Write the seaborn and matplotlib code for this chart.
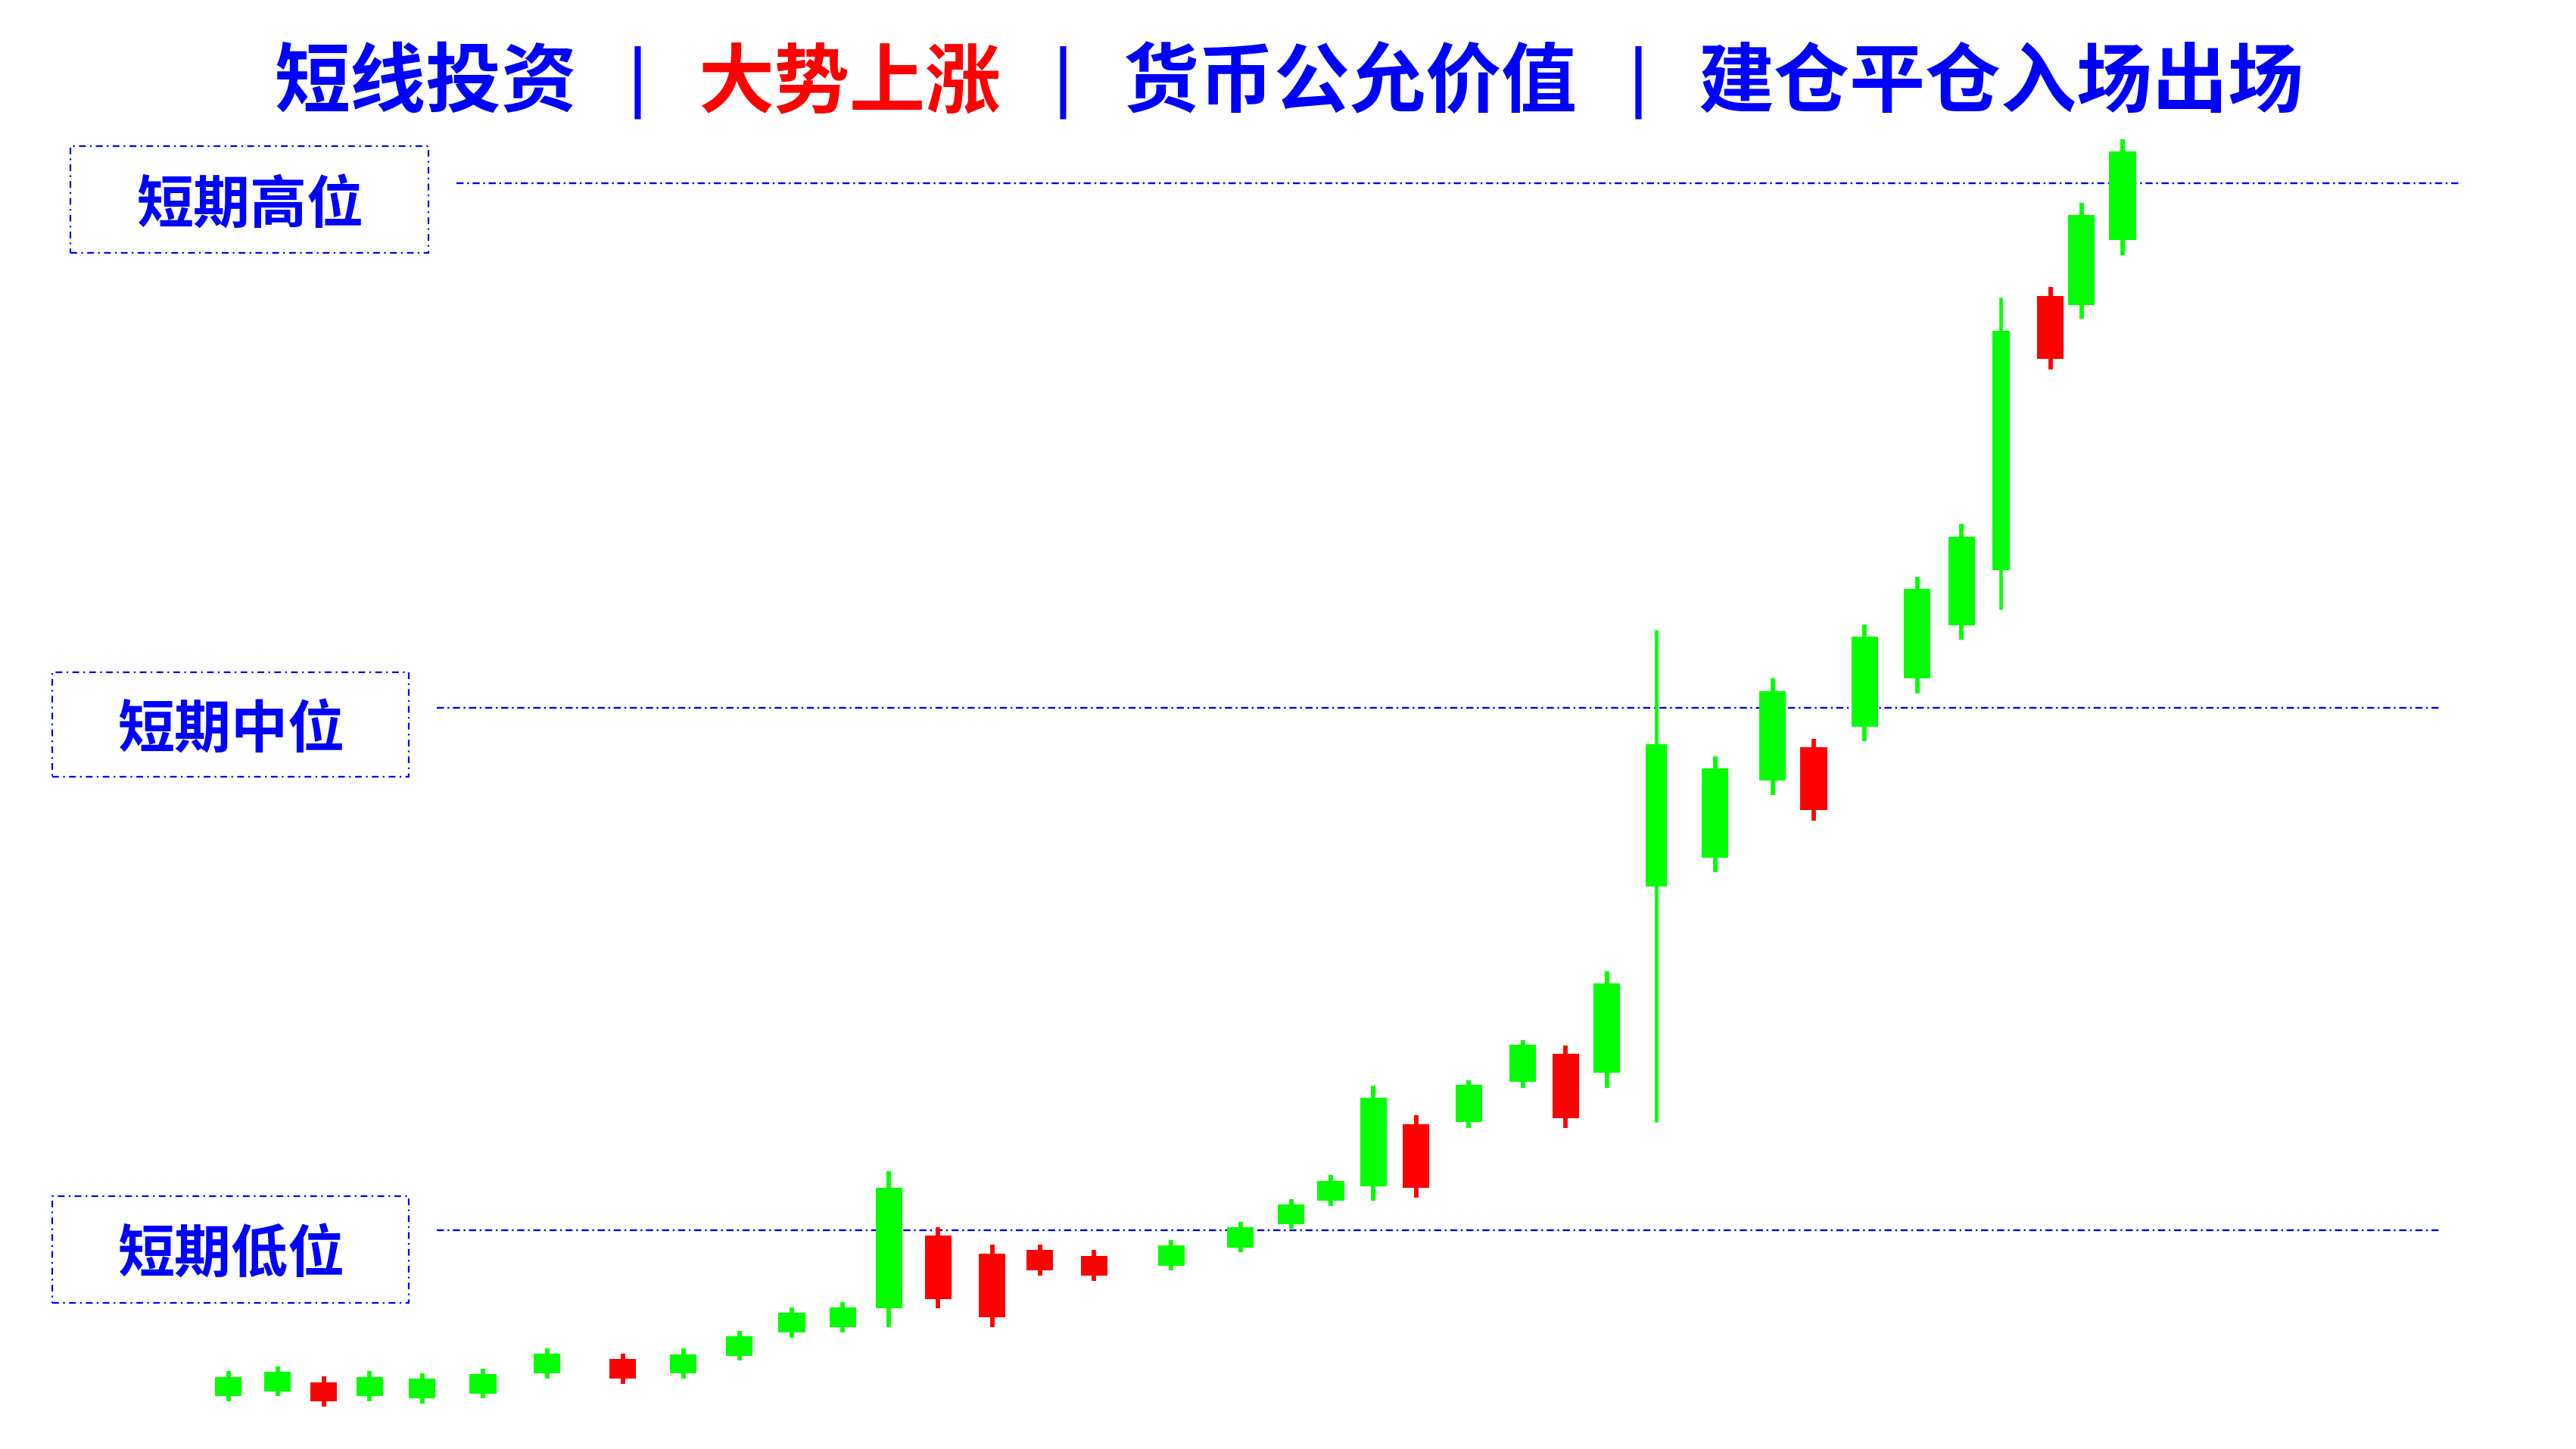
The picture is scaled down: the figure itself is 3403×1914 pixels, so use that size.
import numpy as np
import pandas as pd
import matplotlib.pyplot as plt
from matplotlib.patches import Rectangle
import seaborn as sns

# K线数据
day = [13.9, 16.9, 19.7, 22.5, 25.7, 29.4, 33.3, 37.9, 41.6, 45.0,
       48.2, 51.3, 54.1, 57.1, 60.4, 63.3, 66.6, 71.3, 75.5, 78.6,
       81.0, 83.6, 86.2, 89.4, 92.7, 95.3, 97.8, 100.8, 104.4, 107.9,
       110.4, 113.5, 116.7, 119.4, 121.8, 124.8, 126.7, 129.2]
open_ = [3.21, 3.49, 4.07, 3.21, 3.08, 3.35, 4.61, 5.50, 4.61, 5.66,
         7.10, 7.40, 8.55, 13.00, 11.89, 12.12, 11.75, 11.17, 12.28, 13.67,
         15.11, 15.97, 19.77, 19.92, 22.36, 24.05, 22.88, 34.25, 36.01, 40.71,
         42.71, 43.98, 46.89, 50.12, 53.52, 70.18, 69.64, 73.57]
close = [4.38, 4.72, 2.90, 4.38, 4.30, 4.58, 5.82, 4.27, 5.78, 6.88,
         8.31, 8.63, 15.90, 9.14, 8.04, 10.89, 10.57, 12.40, 13.51, 14.90,
         16.33, 21.40, 15.92, 22.16, 24.61, 20.15, 28.34, 42.90, 41.44, 46.14,
         38.87, 49.45, 52.35, 55.53, 68.06, 66.34, 75.11, 78.98]
high = [4.76, 5.04, 4.44, 4.76, 4.62, 4.90, 6.14, 5.82, 6.14, 7.20,
        8.63, 8.95, 16.90, 13.51, 12.45, 12.45, 12.12, 12.72, 13.83, 15.22,
        16.66, 22.12, 20.32, 22.44, 24.88, 24.56, 29.07, 49.85, 42.17, 46.92,
        43.22, 50.18, 53.07, 56.32, 70.10, 70.74, 75.86, 79.72]
low = [2.90, 3.21, 2.57, 2.90, 2.75, 3.08, 4.27, 3.95, 4.27, 5.38,
       6.76, 7.08, 7.40, 8.55, 7.40, 10.57, 10.25, 10.89, 11.96, 13.40,
       14.78, 15.11, 15.32, 19.55, 22.00, 19.55, 21.96, 19.90, 35.12, 39.82,
       38.24, 43.08, 46.00, 49.24, 51.11, 65.72, 68.78, 72.66]

level_names = ['短期高位', '短期中位', '短期低位']
level_values = [77.05, 45.10, 13.30]

title_parts = ['短线投资', '大势上涨', '货币公允价值', '建仓平仓入场出场']

df = pd.DataFrame({'day': day, 'open': open_, 'close': close, 'high': high, 'low': low})
df['up'] = df['close'] >= df['open']

# 样式
GREEN = '#00FF00'
RED = '#FF0000'
BLUE = '#0000FF'
thin = {27: 1.3, 34: 1.03}   # 细一点的K线 (索引: 实体宽度)

sns.set_theme(style='white')
plt.rcParams['font.family'] = ['Noto Sans CJK SC', 'DejaVu Sans']

W, H = 1568, 882   # 布局参照尺寸
fig = plt.figure(figsize=(34.03, 19.14), dpi=100)
ax = fig.add_axes([0, 0, 1, 1])
ax.set_xlim(0, W / 10)
ax.set_ylim(0, H / 10)
ax.axis('off')

colors = np.where(df['up'], GREEN, RED)
widths = [thin.get(i, 1.62) for i in range(len(df))]
wick_lw = [3.3 if i in thin else 4.2 for i in range(len(df))]

ax.vlines(df['day'], df['low'], df['high'], colors=colors, linewidth=wick_lw,
          zorder=2, capstyle='butt')
ax.bar(df['day'], (df['close'] - df['open']).abs(),
       bottom=df[['open', 'close']].min(axis=1),
       width=widths, color=colors, linewidth=0, zorder=3)

# 水平参考线 + 标签框
boxes = [(43, 89, 218, 65), (32, 409, 217, 64), (32, 728, 217, 65)]
for name, val, (bx, by, bw, bh) in zip(level_names, level_values, boxes):
    x0 = (bx + bw + 17) / 10
    ax.hlines(val, x0, x0 + 121.9, colors=BLUE, linewidth=1.7,
              linestyles=(0, (4, 2, 1, 2)), zorder=1)
    rect = Rectangle((bx / W, 1 - (by + bh) / H), bw / W, bh / H,
                     transform=fig.transFigure, fill=False, edgecolor=BLUE,
                     linewidth=1.6, linestyle=(0, (4, 2.5, 1, 2.5)))
    fig.patches.append(rect)
    fig.text((bx + bw / 2) / W, 1 - (by + bh / 2 + 4) / H, name,
             ha='center', va='center', fontsize=54, fontweight='bold', color=BLUE)

# 标题
part_x = [259, 517, 822, 1218]
part_c = [BLUE, RED, BLUE, BLUE]
for txt, x, c in zip(title_parts, part_x, part_c):
    fig.text(x / W, 1 - 51 / H, txt, ha='center', va='center',
             fontsize=72, fontweight='bold', color=c)
for x in [388, 647, 997]:
    fig.text(x / W, 1 - 50 / H, '|', ha='center', va='center',
             fontsize=70, color=BLUE, family='DejaVu Sans')

fig.savefig('out.png', dpi=100, facecolor='white')
